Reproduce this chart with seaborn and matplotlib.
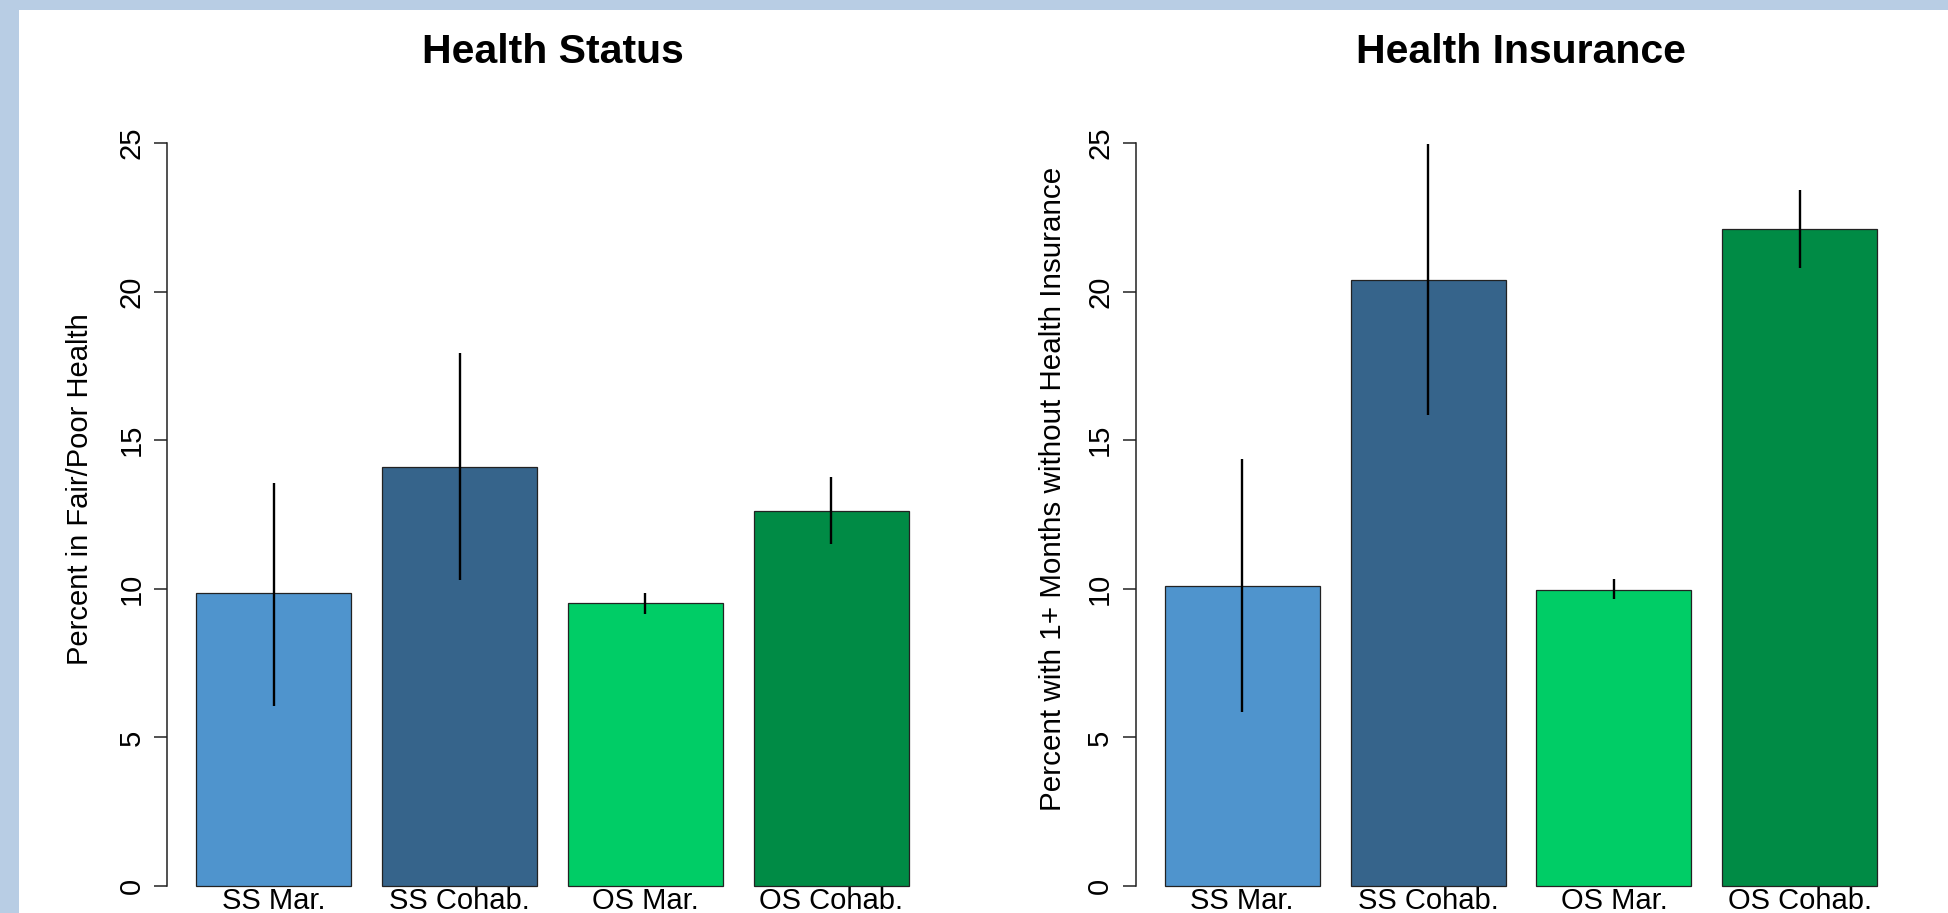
import matplotlib
matplotlib.use("Agg")
import matplotlib.pyplot as plt
from matplotlib.patches import Rectangle
import seaborn as sns
import pandas as pd

# Groups and colours
groups = ["SS Mar.", "SS Cohab.", "OS Mar.", "OS Cohab."]
colors = ["#4F94CD", "#36648B", "#00CD66", "#008B45"]

# Percent in fair/poor health, with confidence interval ends
health_pct = [9.86, 14.11, 9.53, 12.63]
health_lo = [6.05, 10.29, 9.15, 11.51]
health_hi = [13.55, 17.92, 9.87, 13.77]

# Percent with 1+ months without health insurance, with interval ends
ins_pct = [10.09, 20.39, 9.96, 22.11]
ins_lo = [5.87, 15.86, 9.65, 20.81]
ins_hi = [14.36, 24.96, 10.33, 23.43]

y_ticks = [0, 5, 10, 15, 20, 25]

sns.set_theme(style="white")
plt.rcParams["font.family"] = ["Liberation Sans", "DejaVu Sans"]
plt.rcParams.update({
    "text.color": "black",
    "axes.labelcolor": "black",
    "axes.titlecolor": "black",
    "xtick.color": "black",
    "ytick.color": "black",
    "xtick.labelcolor": "black",
    "ytick.labelcolor": "black",
})

W, H = 1949, 913
fig = plt.figure(figsize=(W / 100, H / 100), dpi=100)
fig.patch.set_facecolor("white")

# light blue frame along the top and left edges
frame_col = "#B8CDE4"
fig.add_artist(Rectangle((0, 1 - 10 / H), 1, 10 / H, transform=fig.transFigure,
                         facecolor=frame_col, edgecolor="none", zorder=0))
fig.add_artist(Rectangle((0, 0), 19 / W, 1, transform=fig.transFigure,
                         facecolor=frame_col, edgecolor="none", zorder=0))

ax_w = 770 / W
ax_b = (H - 886) / H
ax_h = 743 / H
axes = [fig.add_axes([167.5 / W, ax_b, ax_w, ax_h]),
        fig.add_axes([1136 / W, ax_b, ax_w, ax_h])]

panels = [
    ("Health Status", "Percent in Fair/Poor Health",
     health_pct, health_lo, health_hi, -0.1029, 21),
    ("Health Insurance", "Percent with 1+ Months without Health Insurance",
     ins_pct, ins_lo, ins_hi, -0.0974, 21.3),
]

for ax, (title, ylabel, pct, lo, hi, lab_x, lab_fs) in zip(axes, panels):
    df = pd.DataFrame({"group": groups, "pct": pct})
    sns.barplot(data=df, x="group", y="pct", hue="group", palette=colors,
                order=groups, hue_order=groups, width=1 / 1.2, saturation=1,
                edgecolor="#222222", linewidth=0.9, errorbar=None,
                legend=False, ax=ax)
    for p in ax.patches:
        p.set_clip_on(False)
    ax.vlines(range(len(groups)), lo, hi, color="black", linewidth=1.7,
              zorder=5, clip_on=False)

    ax.set_xlim(-0.57, 3.57)
    ax.set_ylim(0, 25)
    ax.set_facecolor("white")
    for s in ("top", "right", "bottom"):
        ax.spines[s].set_visible(False)
    ax.spines["left"].set_color("#222222")
    ax.spines["left"].set_linewidth(1.1)
    ax.spines["left"].set_bounds(0, 25)

    ax.set_yticks(y_ticks)
    ax.set_yticklabels([str(t) for t in y_ticks])
    ax.tick_params(axis="y", left=True, length=9.4, width=1.1,
                   color="#222222", pad=6.3, labelsize=21, labelrotation=90,
                   labelcolor="black")
    for lab in ax.get_yticklabels():
        lab.set_va("center")
    ax.tick_params(axis="x", bottom=False, length=0, pad=0.8, labelsize=21,
                   labelcolor="black")

    ax.set_xlabel("")
    ax.set_ylabel(ylabel, fontsize=lab_fs, color="black")
    ax.yaxis.label.set_va("baseline")
    ax.yaxis.set_label_coords(lab_x, 0.5343)

    ax.set_title(title, fontsize=29.5, fontweight="bold", y=1.1077, pad=0,
                 va="baseline", color="black")

fig.savefig("out.png", dpi=100, facecolor="white")
